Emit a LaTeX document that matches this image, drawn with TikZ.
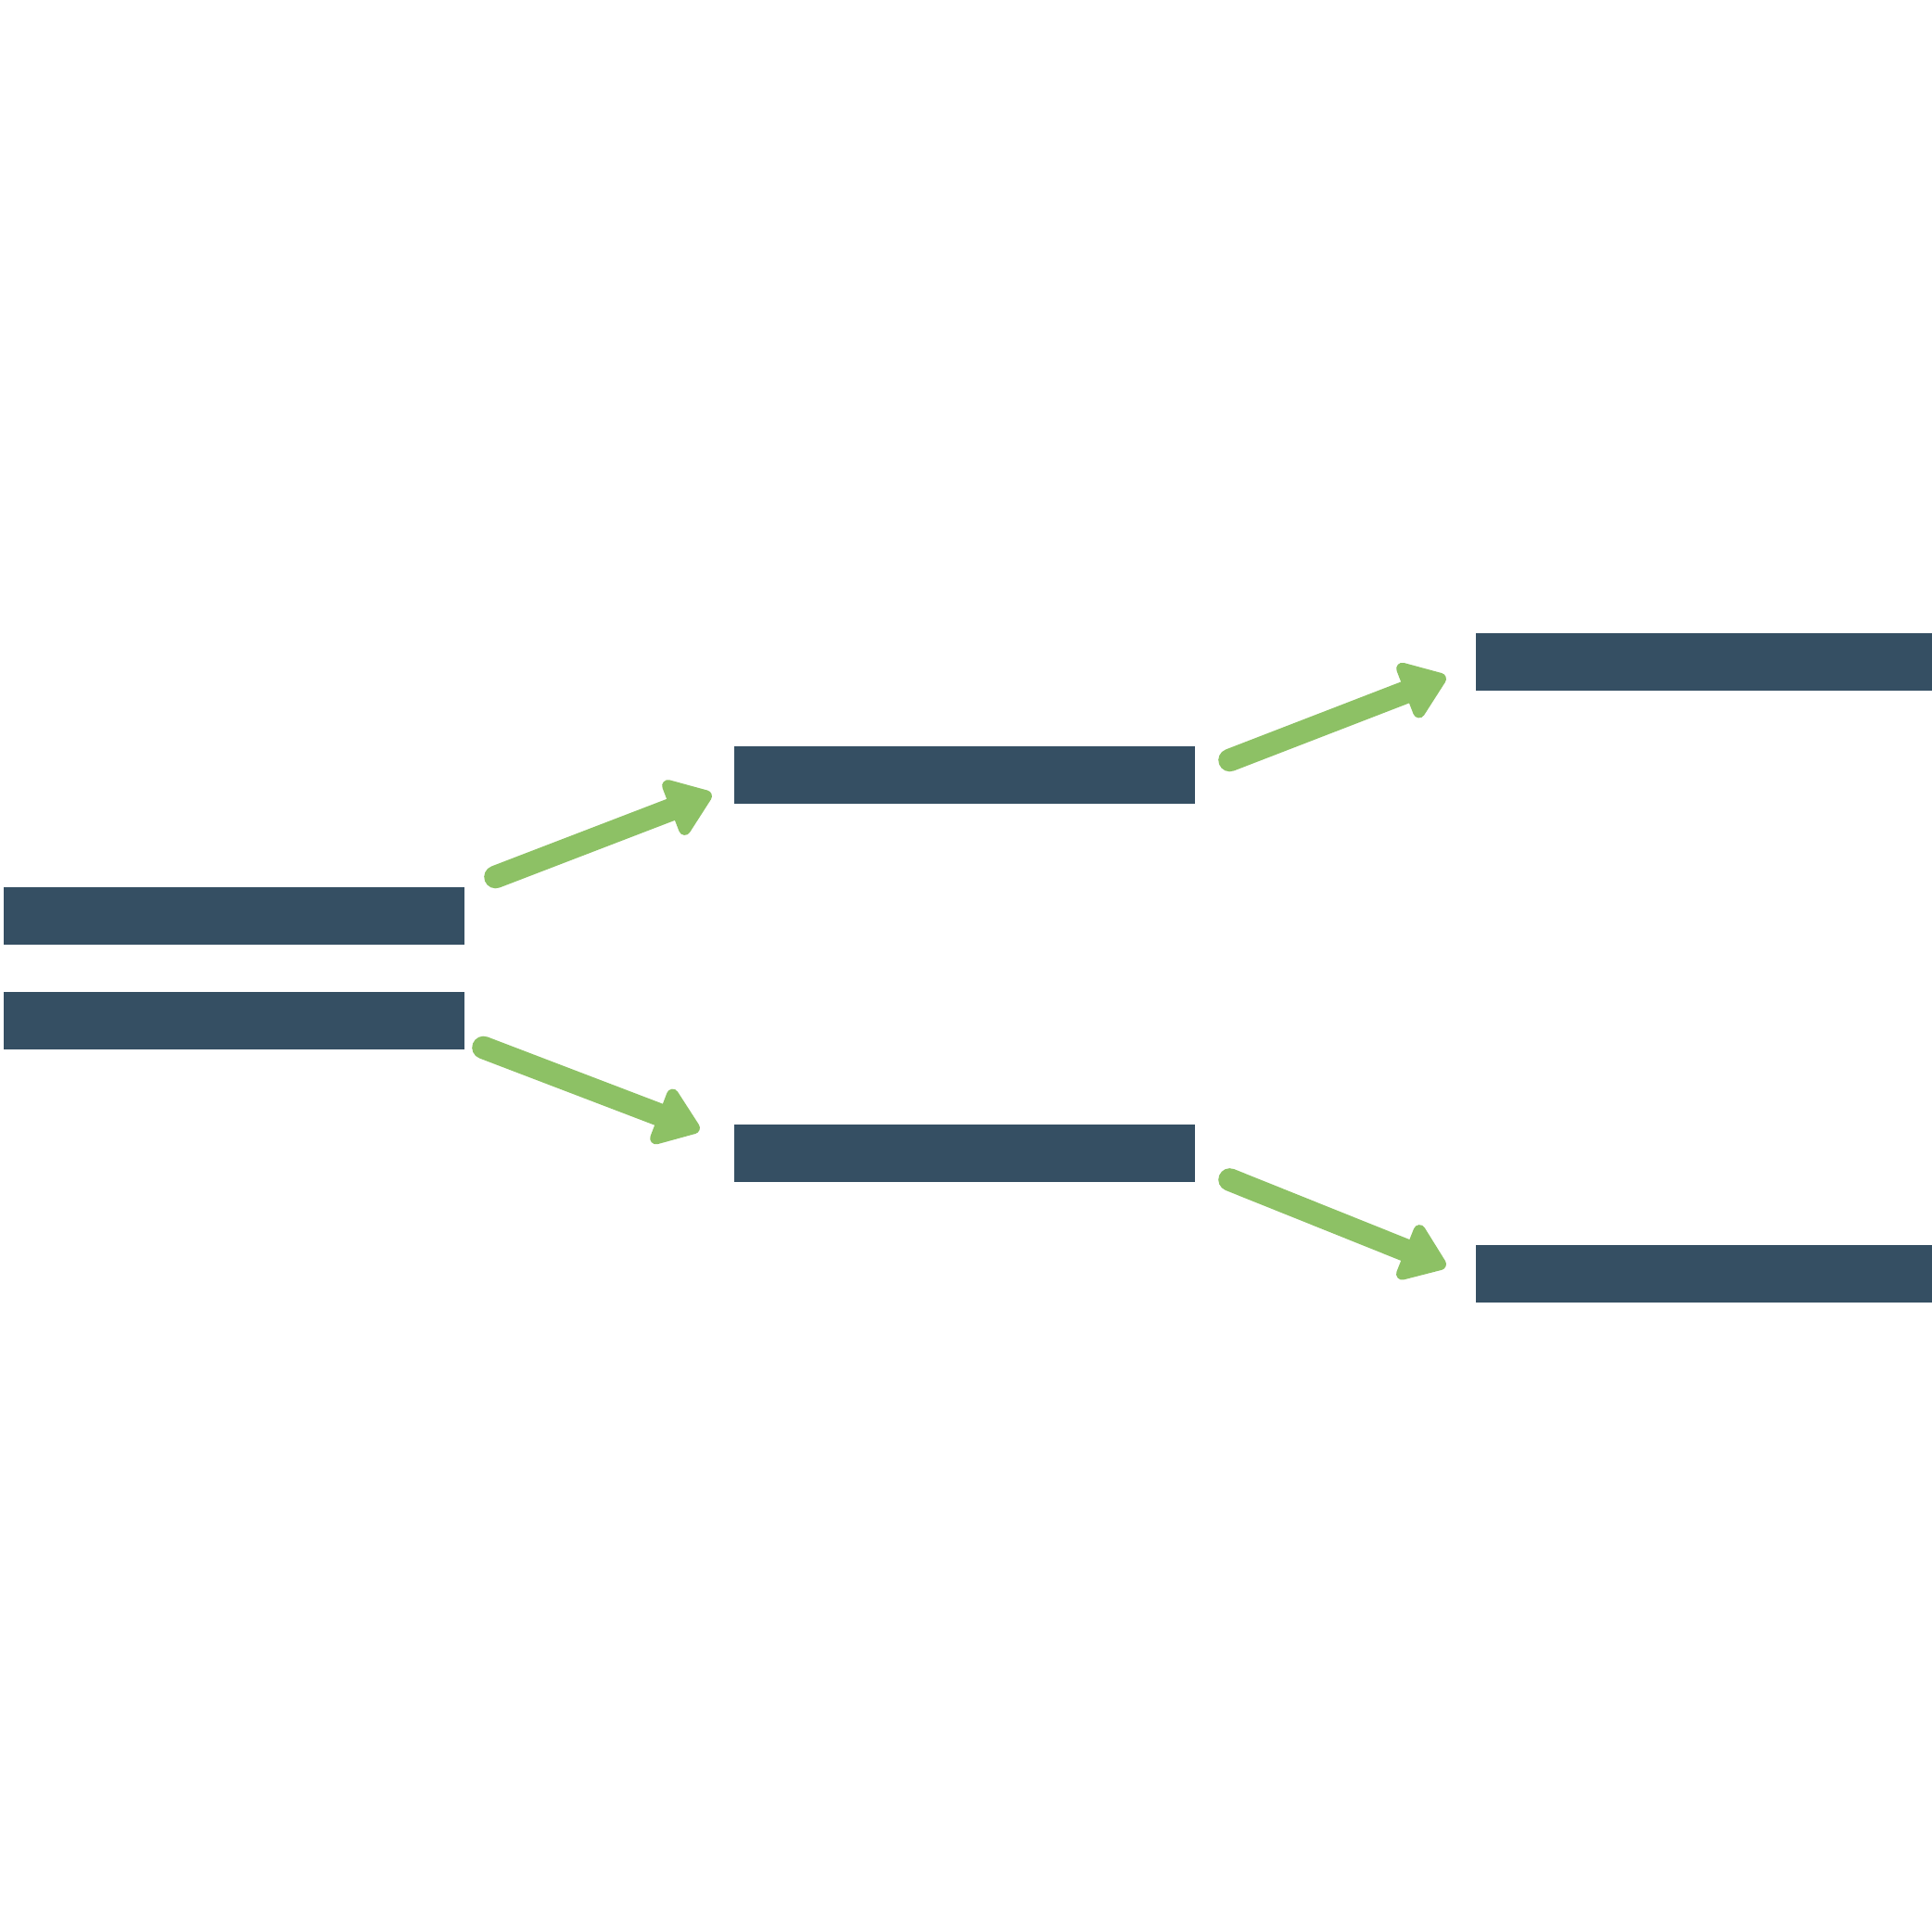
\documentclass[tikz,border=0pt]{standalone}
\usepackage{tikz}
\usetikzlibrary{arrows.meta,positioning}
\definecolor{barblue}{RGB}{53,79,99}
\definecolor{flowgreen}{RGB}{141,193,101}

\begin{document}
\begin{tikzpicture}[
    level/.style={fill=barblue, draw=none, minimum width=4.97cm, minimum height=0.62cm,
                  inner sep=0pt, outer sep=0pt},
    split/.style={flowgreen, line width=7pt, line cap=round,
                  -{Triangle[length=0.52cm, width=0.72cm, round]}}]
  \useasboundingbox (0,0) rectangle (20.84,20.84);
  \clip (0,0) rectangle (20.84,20.84);
  % Degenerate pair
  \node[level] (low1) at (2.52,10.96) {};
  \node[level] (low2) at (2.52,9.83) {};
  % First splitting
  \node[level] (mid1) at (10.40,12.475) {};
  \node[level] (mid2) at (10.40,8.395) {};
  % Second splitting
  \node[level] (top1) at (18.40,13.695) {};
  \node[level] (top2) at (18.40,7.095) {};
  % Arrows
  \draw[split] ([xshift=0.34cm,yshift=0.11cm]low1.north east) -- ([xshift=-0.24cm,yshift=-0.2cm]mid1.west);
  \draw[split] ([xshift=0.21cm,yshift=0.02cm]low2.south east) -- ([xshift=-0.37cm,yshift=0.255cm]mid2.west);
  \draw[split] ([xshift=0.38cm,yshift=0.165cm]mid1.east) -- ([xshift=-0.32cm,yshift=-0.155cm]top1.west);
  \draw[split] ([xshift=0.38cm,yshift=0.03cm]mid2.south east) -- ([xshift=-0.32cm,yshift=0.085cm]top2.west);
\end{tikzpicture}
\end{document}
